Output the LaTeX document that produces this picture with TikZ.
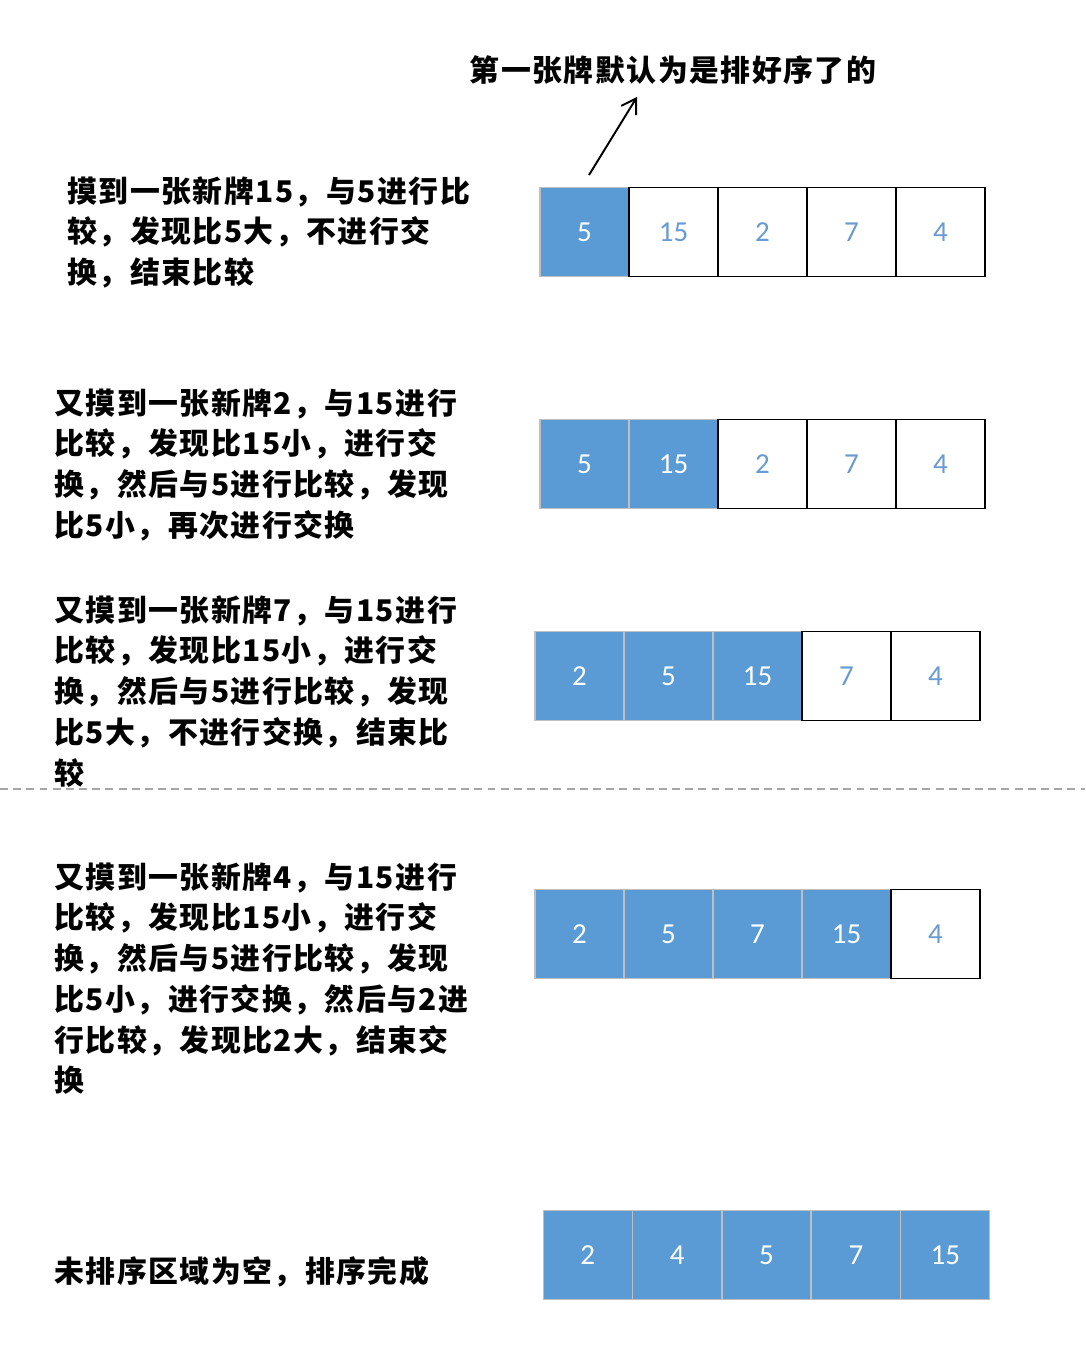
\documentclass[tikz,border=0pt]{standalone}
\usepackage{fontspec}
\setmainfont{Carlito}
\newfontfamily\cjk[LetterSpace=5]{Noto Sans CJK SC}
\usetikzlibrary{arrows.meta}
\definecolor{cardblue}{HTML}{5B9BD5}
\definecolor{cardtext}{HTML}{6A9AD2}
\definecolor{cardedge}{HTML}{BFBFBF}

\begin{document}
\begin{tikzpicture}[x=0.02cm, y=-0.02cm,
  card/.style={rectangle, minimum width=1.78cm, minimum height=1.78cm, inner sep=0pt, font=\fontsize{16.5}{19}\selectfont},
  sorted/.style={card, fill=cardblue, draw=cardedge, line width=0.6pt, text=white},
  unsorted/.style={card, fill=white, draw=black, line width=1.1pt, text=cardtext},
  steptext/.style={anchor=north west, align=left, inner sep=0pt, font=\cjk\bfseries\fontsize{17}{23.2}\selectfont}]
  \useasboundingbox (0,0) rectangle (1085,1354);

  % first card is taken as sorted
  \node[inner sep=0pt, font=\cjk\bfseries\fontsize{17}{20}\selectfont] (head) at (673,70) {第一张牌默认为是排好序了的};
  \coordinate (tail) at (589,175);
  \coordinate (tip) at (637,97);
  \draw[-{Straight Barb[length=8pt,width=10pt]}, line width=1.1pt] (tail) -- (tip);

  % rows of cards
  \foreach \v/\s [count=\i] in {5/sorted,15/unsorted,2/unsorted,7/unsorted,4/unsorted}
    \node[\s] (a\i) at ({540+89*(\i-1)+44.5},232) {\v};
  \foreach \v/\s [count=\i] in {5/sorted,15/sorted,2/unsorted,7/unsorted,4/unsorted}
    \node[\s] (b\i) at ({540+89*(\i-1)+44.5},464) {\v};
  \foreach \v/\s [count=\i] in {2/sorted,5/sorted,15/sorted,7/unsorted,4/unsorted}
    \node[\s] (c\i) at ({535+89*(\i-1)+44.5},676) {\v};
  \foreach \v/\s [count=\i] in {2/sorted,5/sorted,7/sorted,15/sorted,4/unsorted}
    \node[\s] (d\i) at ({535+89*(\i-1)+44.5},934) {\v};
  \foreach \v [count=\i] in {2,4,5,7,15}
    \node[sorted] (e\i) at ({543+89.4*(\i-1)+44.7},1255) {\v};

  % explanations
  \node[steptext] (t1) at (67,176) {摸到一张新牌15，与5进行比\\较，发现比5大，不进行交\\换，结束比较};
  \node[steptext] (t2) at (54,388) {又摸到一张新牌2，与15进行\\比较，发现比15小，进行交\\换，然后与5进行比较，发现\\比5小，再次进行交换};
  \node[steptext] (t3) at (54,595) {又摸到一张新牌7，与15进行\\比较，发现比15小，进行交\\换，然后与5进行比较，发现\\比5大，不进行交换，结束比\\较};
  \node[steptext] (t4) at (54,862) {又摸到一张新牌4，与15进行\\比较，发现比15小，进行交\\换，然后与5进行比较，发现\\比5小，进行交换，然后与2进\\行比较，发现比2大，结束交\\换};
  \node[steptext] (t5) at (54,1256) {未排序区域为空，排序完成};

  \draw[gray!70, line width=0.6pt, dash pattern=on 4.5pt off 3pt] (0,789) -- (1085,789);
\end{tikzpicture}
\end{document}
